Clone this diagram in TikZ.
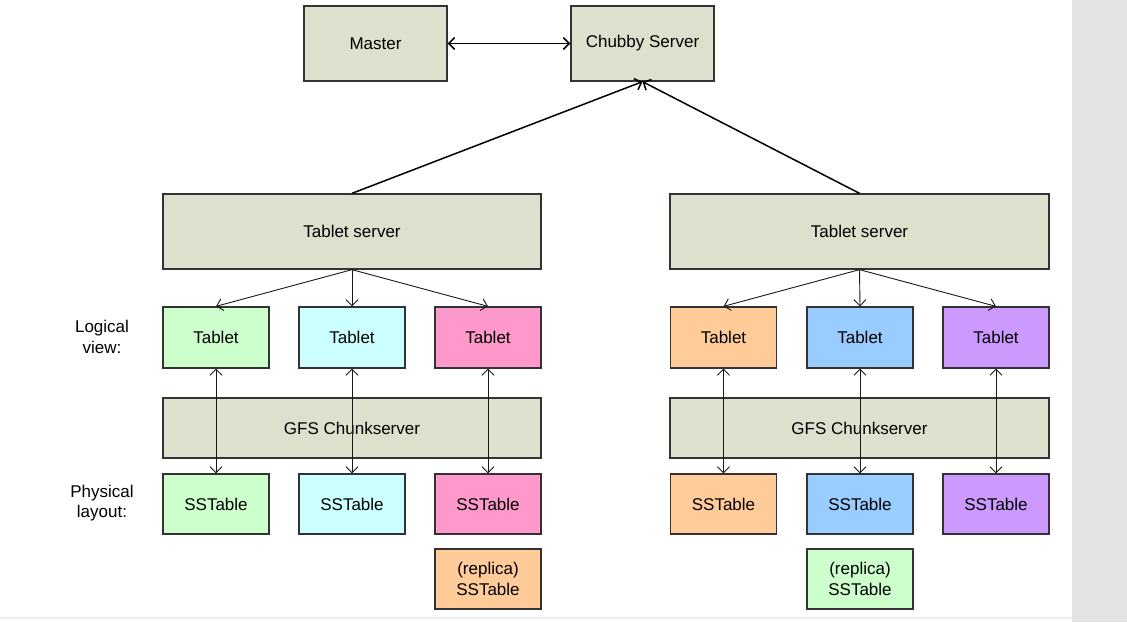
\documentclass[tikz,border=0pt]{standalone}
\usepackage{fontspec}
\setmainfont{Liberation Sans}
\usetikzlibrary{arrows.meta}
\definecolor{srv}{HTML}{DDE0CC}
\definecolor{cgreen}{HTML}{CCFFCC}
\definecolor{ccyan}{HTML}{CCFFFF}
\definecolor{cpink}{HTML}{FF99CC}
\definecolor{corange}{HTML}{FFCC99}
\definecolor{cblue}{HTML}{99CCFF}
\definecolor{cpurple}{HTML}{CC99FF}
\definecolor{edge}{HTML}{333333}
\definecolor{strip}{HTML}{E3E3E3}
\tikzset{
  box/.style={draw=edge, line width=1.3pt, inner sep=0pt, align=center,
    font=\fontsize{17}{20.5}\selectfont},
  tabbox/.style={box, minimum width=106pt, minimum height=61pt},
  ssbox/.style={box, minimum width=106pt, minimum height=60pt},
  lbl/.style={align=center, font=\fontsize{17}{20.5}\selectfont},
  conn/.style={draw=black!90, line width=0.9pt},
  thickconn/.style={draw=black, line width=1.5pt},
  >={Straight Barb[length=6pt,width=12pt]}
}
\begin{document}
\begin{tikzpicture}[x=1pt,y=-1pt]
\useasboundingbox (0,0) rectangle (1127,622);
\fill[white] (0,0) rectangle (1127,622);
\fill[strip] (1072,0) rectangle (1127,622);
\fill[black!6] (0,616.5) rectangle (1072,618.5);

\node[box, fill=srv, minimum width=143pt, minimum height=75pt] (master) at (375.5,43.5) {Master};
\node[box, fill=srv, minimum width=143pt, minimum height=75pt] (chubby) at (642.5,43.5) {Chubby Server};

\node[box, fill=srv, minimum width=378pt, minimum height=75pt] (ts1) at (352,231.5) {Tablet server};
\node[box, fill=srv, minimum width=379pt, minimum height=75pt] (ts2) at (859.5,231.5) {Tablet server};

\node[lbl] (logical) at (102,337) {Logical\\view:};
\node[lbl] (physical) at (102,503) {Physical\\layout:};

\node[box, fill=srv, minimum width=378pt, minimum height=60pt] (gfs1) at (352,428) {GFS Chunkserver};
\node[box, fill=srv, minimum width=379pt, minimum height=60pt] (gfs2) at (859.5,428) {GFS Chunkserver};

\node[tabbox, fill=cgreen] (t1) at (216,337.5) {Tablet};
\node[tabbox, fill=ccyan] (t2) at (352,337.5) {Tablet};
\node[tabbox, fill=cpink] (t3) at (488,337.5) {Tablet};
\node[tabbox, fill=corange] (t4) at (723.5,337.5) {Tablet};
\node[tabbox, fill=cblue] (t5) at (860,337.5) {Tablet};
\node[tabbox, fill=cpurple] (t6) at (996,337.5) {Tablet};

\node[ssbox, fill=cgreen] (s1) at (216,504) {SSTable};
\node[ssbox, fill=ccyan] (s2) at (352,504) {SSTable};
\node[ssbox, fill=cpink] (s3) at (488,504) {SSTable};
\node[ssbox, fill=corange] (s4) at (723.5,504) {SSTable};
\node[ssbox, fill=cblue] (s5) at (860,504) {SSTable};
\node[ssbox, fill=cpurple] (s6) at (996,504) {SSTable};

\node[ssbox, fill=corange] (r1) at (488,579) {(replica)\\SSTable};
\node[ssbox, fill=cgreen] (r2) at (860,579) {(replica)\\SSTable};

\draw[thickconn, <->] (master.east) -- (chubby.west);
\draw[thickconn, ->] (ts1.north) -- (chubby.south);
\draw[thickconn, ->] (ts2.north) -- (chubby.south);

\foreach \t in {t1,t2,t3} \draw[conn, ->] (ts1.south) -- (\t.north);
\foreach \t in {t4,t5,t6} \draw[conn, ->] (ts2.south) -- (\t.north);

\foreach \i in {1,...,6} \draw[conn, <->] (t\i.south) -- (s\i.north);
\end{tikzpicture}
\end{document}
